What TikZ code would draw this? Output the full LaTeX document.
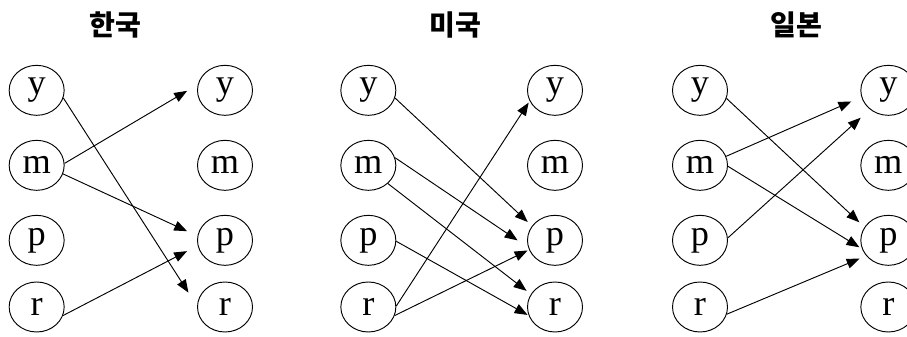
\documentclass[tikz,border=0pt]{standalone}
\usepackage{fontspec}
\usepackage{tikz}
\usetikzlibrary{shapes.geometric,arrows.meta}
\setmainfont{Liberation Serif}
\newfontfamily\korfont{Noto Sans CJK KR}

\begin{document}
\begin{tikzpicture}[
    letter/.style={ellipse, draw, line width=0.8pt, minimum width=1.65cm, minimum height=1.5cm, inner sep=0pt, font=\fontsize{31}{31}\selectfont},
    title/.style={font=\korfont\bfseries\fontsize{24}{24}\selectfont},
    arrow/.style={-{Triangle[length=11pt,width=8.5pt]}, line width=0.8pt}
]
\useasboundingbox (0,0) rectangle (27.21,10.11);

% Korea
\node[title] (korT) at (3.45,9.36) {한국};
\node[letter] (korLy) at (1.1,7.4) {y};
\node[letter] (korLm) at (1.1,5.15) {m};
\node[letter] (korLp) at (1.1,2.9) {p};
\node[letter] (korLr) at (1.1,0.9) {r};
\node[letter] (korRy) at (6.75,7.4) {y};
\node[letter] (korRm) at (6.75,5.15) {m};
\node[letter] (korRp) at (6.75,2.9) {p};
\node[letter] (korRr) at (6.75,0.9) {r};

\draw[arrow, shorten >=13.6pt] (korLy.-16) -- (korRr.178);
\draw[arrow, shorten >=10.6pt] (korLm.4) -- (korRy.168);
\draw[arrow, shorten >=9.7pt] (korLm.-18) -- (korRp.171);
\draw[arrow, shorten >=10.2pt] (korLr.-18) -- (korRp.191);

% USA
\node[title] (usaT) at (13.65,9.36) {미국};
\node[letter] (usaLy) at (11.05,7.4) {y};
\node[letter] (usaLm) at (11.05,5.15) {m};
\node[letter] (usaLp) at (11.05,2.9) {p};
\node[letter] (usaLr) at (11.05,0.9) {r};
\node[letter] (usaRy) at (16.65,7.4) {y};
\node[letter] (usaRm) at (16.65,5.15) {m};
\node[letter] (usaRp) at (16.65,2.9) {p};
\node[letter] (usaRr) at (16.65,0.9) {r};

\draw[arrow, shorten >=4.9pt] (usaLy.-16) -- (usaRp.148);
\draw[arrow, shorten >=10.9pt] (usaLm.16) -- (usaRp.195);
\draw[arrow, shorten >=4.6pt] (usaLm.-43) -- (usaRr.152);
\draw[arrow, shorten >=1.1pt] (usaLp.-2) -- (usaRr.198);
\draw[arrow, shorten >=1.6pt] (usaLr.2) -- (usaRy.203);
\draw[arrow, shorten >=1.4pt] (usaLr.-18) -- (usaRp.200);

% Japan
\node[title] (jpnT) at (23.88,9.36) {일본};
\node[letter] (jpnLy) at (21.0,7.4) {y};
\node[letter] (jpnLm) at (21.0,5.15) {m};
\node[letter] (jpnLp) at (21.0,2.9) {p};
\node[letter] (jpnLr) at (21.0,0.9) {r};
\node[letter] (jpnRy) at (26.65,7.4) {y};
\node[letter] (jpnRm) at (26.65,5.15) {m};
\node[letter] (jpnRp) at (26.65,2.9) {p};
\node[letter] (jpnRr) at (26.65,0.9) {r};

\draw[arrow, shorten >=6pt] (jpnLy.-17) -- (jpnRp.151);
\draw[arrow, shorten >=9.4pt] (jpnLm.19) -- (jpnRy.194);
\draw[arrow, shorten >=2.6pt] (jpnLm.-2) -- (jpnRp.198);
\draw[arrow, shorten >=10.5pt] (jpnLp.5) -- (jpnRy.226);
\draw[arrow, shorten >=6.1pt] (jpnLr.-15) -- (jpnRp.215);

\end{tikzpicture}
\end{document}
